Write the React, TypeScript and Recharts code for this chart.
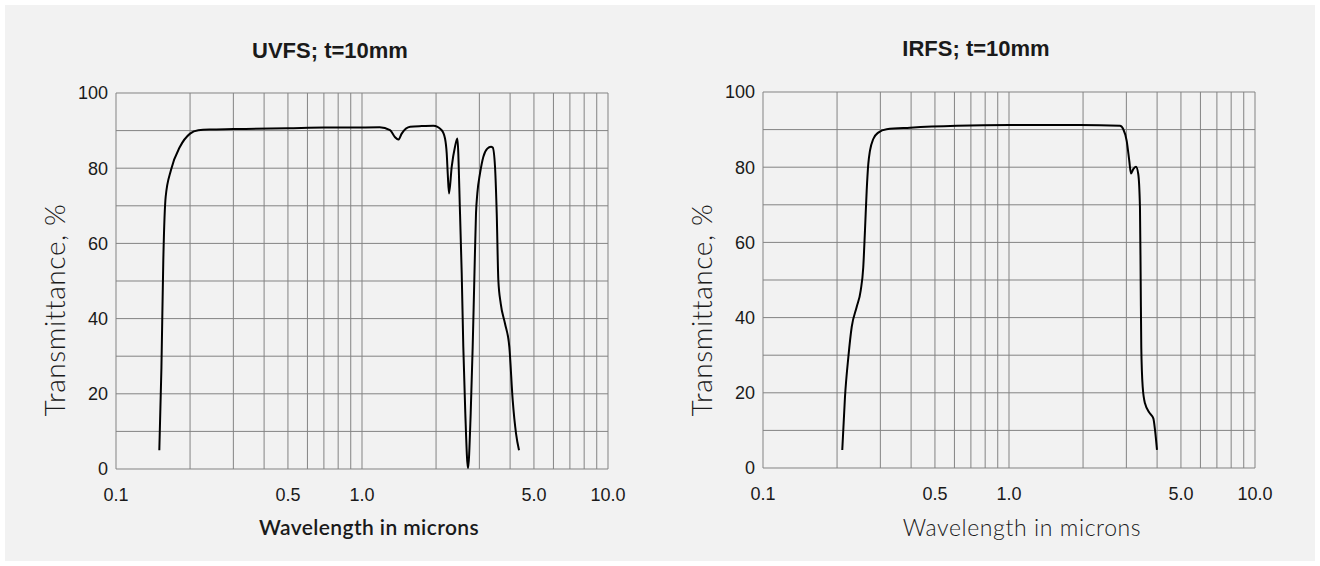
import { LineChart, Line, XAxis, YAxis, CartesianGrid } from "recharts"

// UV fused silica, 10 mm
const uvfsWavelength = [
  0.15, 0.153, 0.1557, 0.1592, 0.1673, 0.182, 0.2, 0.216, 0.24, 0.3, 0.5, 0.7, 0.9, 1.18, 1.3, 1.36, 1.405,
  1.45, 1.57, 1.75, 1.95, 2.109, 2.175, 2.21, 2.231, 2.258, 2.316, 2.388, 2.441, 2.503, 2.543, 2.581, 2.63,
  2.697, 2.766, 2.818, 2.861, 2.907, 2.943, 3.018, 3.112, 3.231, 3.345, 3.399, 3.473, 3.529, 3.583, 3.664,
  3.813, 3.971, 4.098, 4.227, 4.348,
]
const uvfsTransmittance = [
  5, 27, 55.5, 72.4, 79.5, 85.7, 89.2, 90.1, 90.3, 90.4, 90.6, 90.8, 90.8, 90.9, 90.1, 88.3, 87.6,
  89.2, 91.0, 91.2, 91.3, 90.1, 87.9, 83.9, 78.6, 73.3, 80.4, 85.7, 87.9, 68, 52, 32.5, 14.8,
  0.2, 14.8, 32.5, 50.2, 68, 73.3, 78.6, 83, 85.2, 85.7, 85.5, 80.4, 68, 50.2, 44,
  38.7, 32.5, 18.3, 9.5, 5,
]

// IR fused silica, 10 mm
const irfsWavelength = [
  0.21, 0.2154, 0.2223, 0.2294, 0.2403, 0.2495, 0.2556, 0.2597, 0.2639, 0.2679, 0.2722, 0.2807, 0.2942,
  0.3182, 0.396, 0.613, 1.01, 1.944, 2.826, 2.915, 3.009, 3.083, 3.132, 3.2, 3.282, 3.353, 3.407, 3.43,
  3.449, 3.495, 3.571, 3.743, 3.861, 3.923, 3.996,
]
const irfsTransmittance = [
  4.8, 18.9, 29.5, 37.5, 42.8, 47.2, 53.4, 63.1, 73.7, 80.8, 84.4, 87.5, 89.2,
  90.1, 90.5, 91.0, 91.2, 91.2, 91.0, 90.1, 87.0, 81.7, 78.3, 79.5, 80.1, 78.2, 69.3, 49.9,
  32.2, 21.6, 17.2, 14.5, 13.2, 10.1, 4.8,
]

const xGridTicks = [0.1, 0.2, 0.3, 0.4, 0.5, 0.6, 0.7, 0.8, 0.9, 1, 2, 3, 4, 5, 6, 7, 8, 9, 10]
const xTickLabels = ["0.1", "", "", "", "0.5", "", "", "", "", "1.0", "", "", "", "5.0", "", "", "", "", "10.0"]
const yGridTicks = [0, 10, 20, 30, 40, 50, 60, 70, 80, 90, 100]
const yTickLabels = ["0", "", "20", "", "40", "", "60", "", "80", "", "100"]

const GRID = "#838383"
const TEXT = "#1a1a1a"
const tickFont = { fontFamily: "'Liberation Sans', Arial, sans-serif", fontSize: 18, fill: TEXT }
const labelFont = "Lato, 'Open Sans', sans-serif"

function Spectrum({ wavelength, transmittance }: { wavelength: number[]; transmittance: number[] }) {
  const data = wavelength.map((w, i) => ({ w, t: transmittance[i] }))
  return (
    <LineChart width={660} height={566} data={data} margin={{ top: 93, right: 52, bottom: 67, left: 56 }}>
      <CartesianGrid stroke={GRID} strokeWidth={1} />
      <XAxis
        dataKey="w"
        type="number"
        scale="log"
        domain={[0.1, 10]}
        ticks={xGridTicks}
        interval={0}
        height={30}
        axisLine={false}
        tickLine={false}
        tickSize={0}
        tickMargin={19}
        tick={tickFont}
        tickFormatter={(v: number) => xTickLabels[xGridTicks.indexOf(v)] ?? ""}
        allowDataOverflow
      />
      <YAxis
        type="number"
        domain={[0, 100]}
        ticks={yGridTicks}
        interval={0}
        width={60}
        axisLine={false}
        tickLine={false}
        tickSize={0}
        tickMargin={8}
        tick={tickFont}
        tickFormatter={(v: number) => yTickLabels[yGridTicks.indexOf(v)] ?? ""}
      />
      <Line type="monotone" dataKey="t" stroke="#000" strokeWidth={2} dot={false} isAnimationActive={false} />
    </LineChart>
  )
}

export default function App() {
  return (
    <div style={{ position: "absolute", left: 0, top: 0, width: 1320, height: 566, background: "#fff" }}>
      <div style={{ position: "absolute", left: 5, top: 5, width: 1310, height: 556, background: "#f2f2f2" }} />
      <div style={{ position: "absolute", left: 0, top: 0 }}>
        <Spectrum wavelength={uvfsWavelength} transmittance={uvfsTransmittance} />
      </div>
      <div style={{ position: "absolute", left: 647, top: -1 }}>
        <Spectrum wavelength={irfsWavelength} transmittance={irfsTransmittance} />
      </div>
      <svg width={1320} height={566} style={{ position: "absolute", left: 0, top: 0, pointerEvents: "none" }}>
        <g fontFamily="'Liberation Sans', Arial, sans-serif" fontWeight="bold" fontSize={22} fill={TEXT} textAnchor="middle">
          <text x={330} y={58}>UVFS; t=10mm</text>
          <text x={976} y={56}>IRFS; t=10mm</text>
        </g>
        <g fontFamily={labelFont} fontSize={28} fill={TEXT} textAnchor="middle" fontWeight={300} letterSpacing={0.6}>
          <text x={65} y={310} transform="rotate(-90 65 310)">Transmittance, %</text>
          <text x={712} y={310} transform="rotate(-90 712 310)">Transmittance, %</text>
        </g>
        <g fontFamily={labelFont} fill={TEXT} textAnchor="middle">
          <text x={369} y={535} fontSize={21} fontWeight={600} letterSpacing={0.4}>Wavelength in microns</text>
          <text x={1022} y={536} fontSize={23} fontWeight={300} letterSpacing={0.6}>Wavelength in microns</text>
        </g>
      </svg>
    </div>
  )
}
